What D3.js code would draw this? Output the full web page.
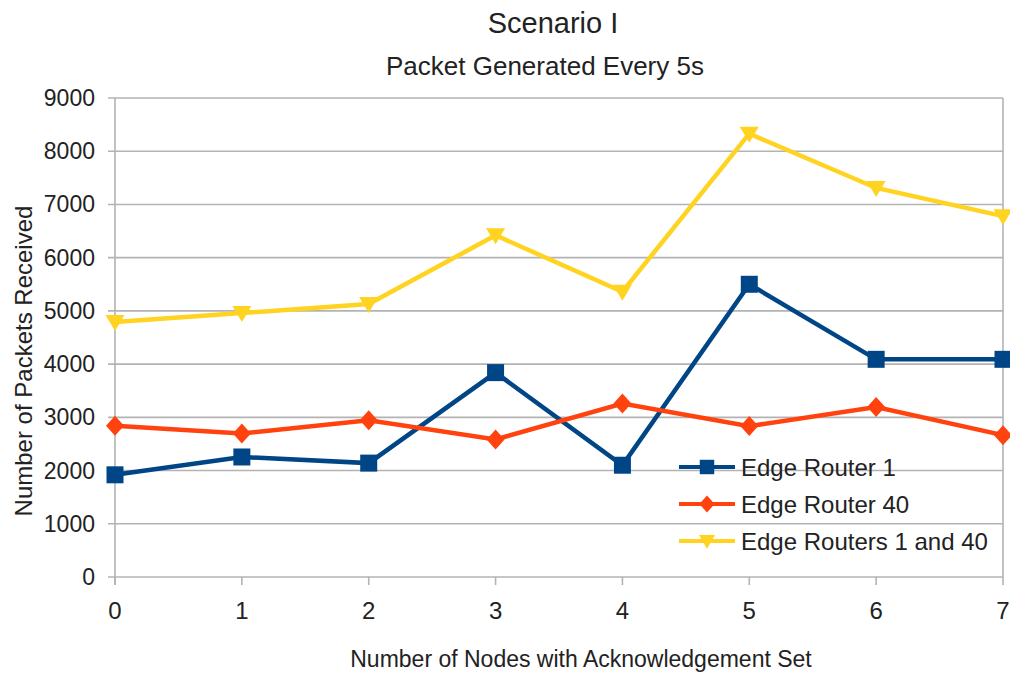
<!DOCTYPE html>
<html><head><meta charset="utf-8">
<script src="https://cdn.jsdelivr.net/npm/d3@7"></script>
<style>body{margin:0;background:#fff}svg{display:block}text{font-family:"Liberation Sans",Arial,sans-serif;fill:#222}</style>
</head><body><svg id="c" width="1010" height="675"></svg>
<script>
const categories = [0,1,2,3,4,5,6,7];
const edgeRouter1 = [1920,2255,2140,3840,2100,5500,4090,4090];
const edgeRouter40 = [2840,2695,2945,2585,3260,2835,3195,2665];
const edgeRouters1and40 = [4790,4960,5130,6420,5360,8330,7310,6780];
const yTicks = [0,1000,2000,3000,4000,5000,6000,7000,8000,9000];
const seriesNames = ["Edge Router 1","Edge Router 40","Edge Routers 1 and 40"];
const colors = ["#004586","#ff420e","#ffd320"];

const svg = d3.select("#c");
const x = d3.scaleLinear().domain([0,7]).range([115,1003]);
const y = d3.scaleLinear().domain([0,9000]).range([577,98]);

function marker(s, k){
  k = k || 1;
  if (s===0){ const h=8.5*k; return `M${-h},${-h}H${h}V${h}H${-h}Z`; }
  if (s===1){ const w=9*k, h=10*k; return `M0,${-h}L${w},0L0,${h}L${-w},0Z`; }
  const w=9.5*k, t=7*k, b=9*k; return `M${-w},${-t}H${w}L0,${b}Z`;
}

svg.append("g").selectAll("line").data(yTicks).join("line")
  .attr("x1",108).attr("x2",1003).attr("y1",d=>y(d)).attr("y2",d=>y(d))
  .attr("stroke","#b3b3b3").attr("stroke-width",1.6);
svg.append("line").attr("x1",1003).attr("x2",1003).attr("y1",y(9000)).attr("y2",y(0)).attr("stroke","#b3b3b3").attr("stroke-width",1.6);
svg.append("line").attr("x1",115).attr("x2",115).attr("y1",y(9000)).attr("y2",585).attr("stroke","#b3b3b3").attr("stroke-width",1.6);
svg.append("g").selectAll("line").data(categories).join("line")
  .attr("x1",d=>x(d)).attr("x2",d=>x(d)).attr("y1",577).attr("y2",585)
  .attr("stroke","#b3b3b3").attr("stroke-width",1.6);

svg.append("g").selectAll("text").data(yTicks).join("text")
  .attr("x",95).attr("y",d=>y(d)+8).attr("text-anchor","end")
  .style("font-size","23px").text(d=>d);
svg.append("g").selectAll("text").data(categories).join("text")
  .attr("x",d=>x(d)).attr("y",619).attr("text-anchor","middle")
  .style("font-size","24px").text(d=>d);

svg.append("text").attr("x",553).attr("y",33).attr("text-anchor","middle").style("font-size","29px").text("Scenario I");
svg.append("text").attr("x",545).attr("y",75).attr("text-anchor","middle").style("font-size","26px").text("Packet Generated Every 5s");
svg.append("text").attr("x",581).attr("y",667).attr("text-anchor","middle").style("font-size","23px").text("Number of Nodes with Acknowledgement Set");
svg.append("text").attr("transform","translate(32,361) rotate(-90)").attr("text-anchor","middle").style("font-size","24px").text("Number of Packets Received");

const data = [edgeRouter1, edgeRouter40, edgeRouters1and40];
const line = d3.line().x((d,i)=>x(categories[i])).y(d=>y(d));
data.forEach((vals,s)=>{
  svg.append("path").datum(vals).attr("d",line).attr("fill","none")
    .attr("stroke",colors[s]).attr("stroke-width",4.5).attr("stroke-linejoin","miter");
  svg.append("g").selectAll("path").data(vals).join("path")
    .attr("transform",(d,i)=>`translate(${x(categories[i])},${y(d)})`)
    .attr("d",marker(s)).attr("fill",colors[s]);
});

const legY = [467,504,541];
seriesNames.forEach((n,s)=>{
  const g = svg.append("g").attr("transform",`translate(0,${legY[s]})`);
  g.append("line").attr("x1",679).attr("x2",735).attr("stroke",colors[s]).attr("stroke-width",4);
  g.append("path").attr("transform","translate(707,0)").attr("d",marker(s,0.85)).attr("fill",colors[s]);
  g.append("text").attr("x",741).attr("y",9).style("font-size","24px").text(n);
});
</script></body></html>
